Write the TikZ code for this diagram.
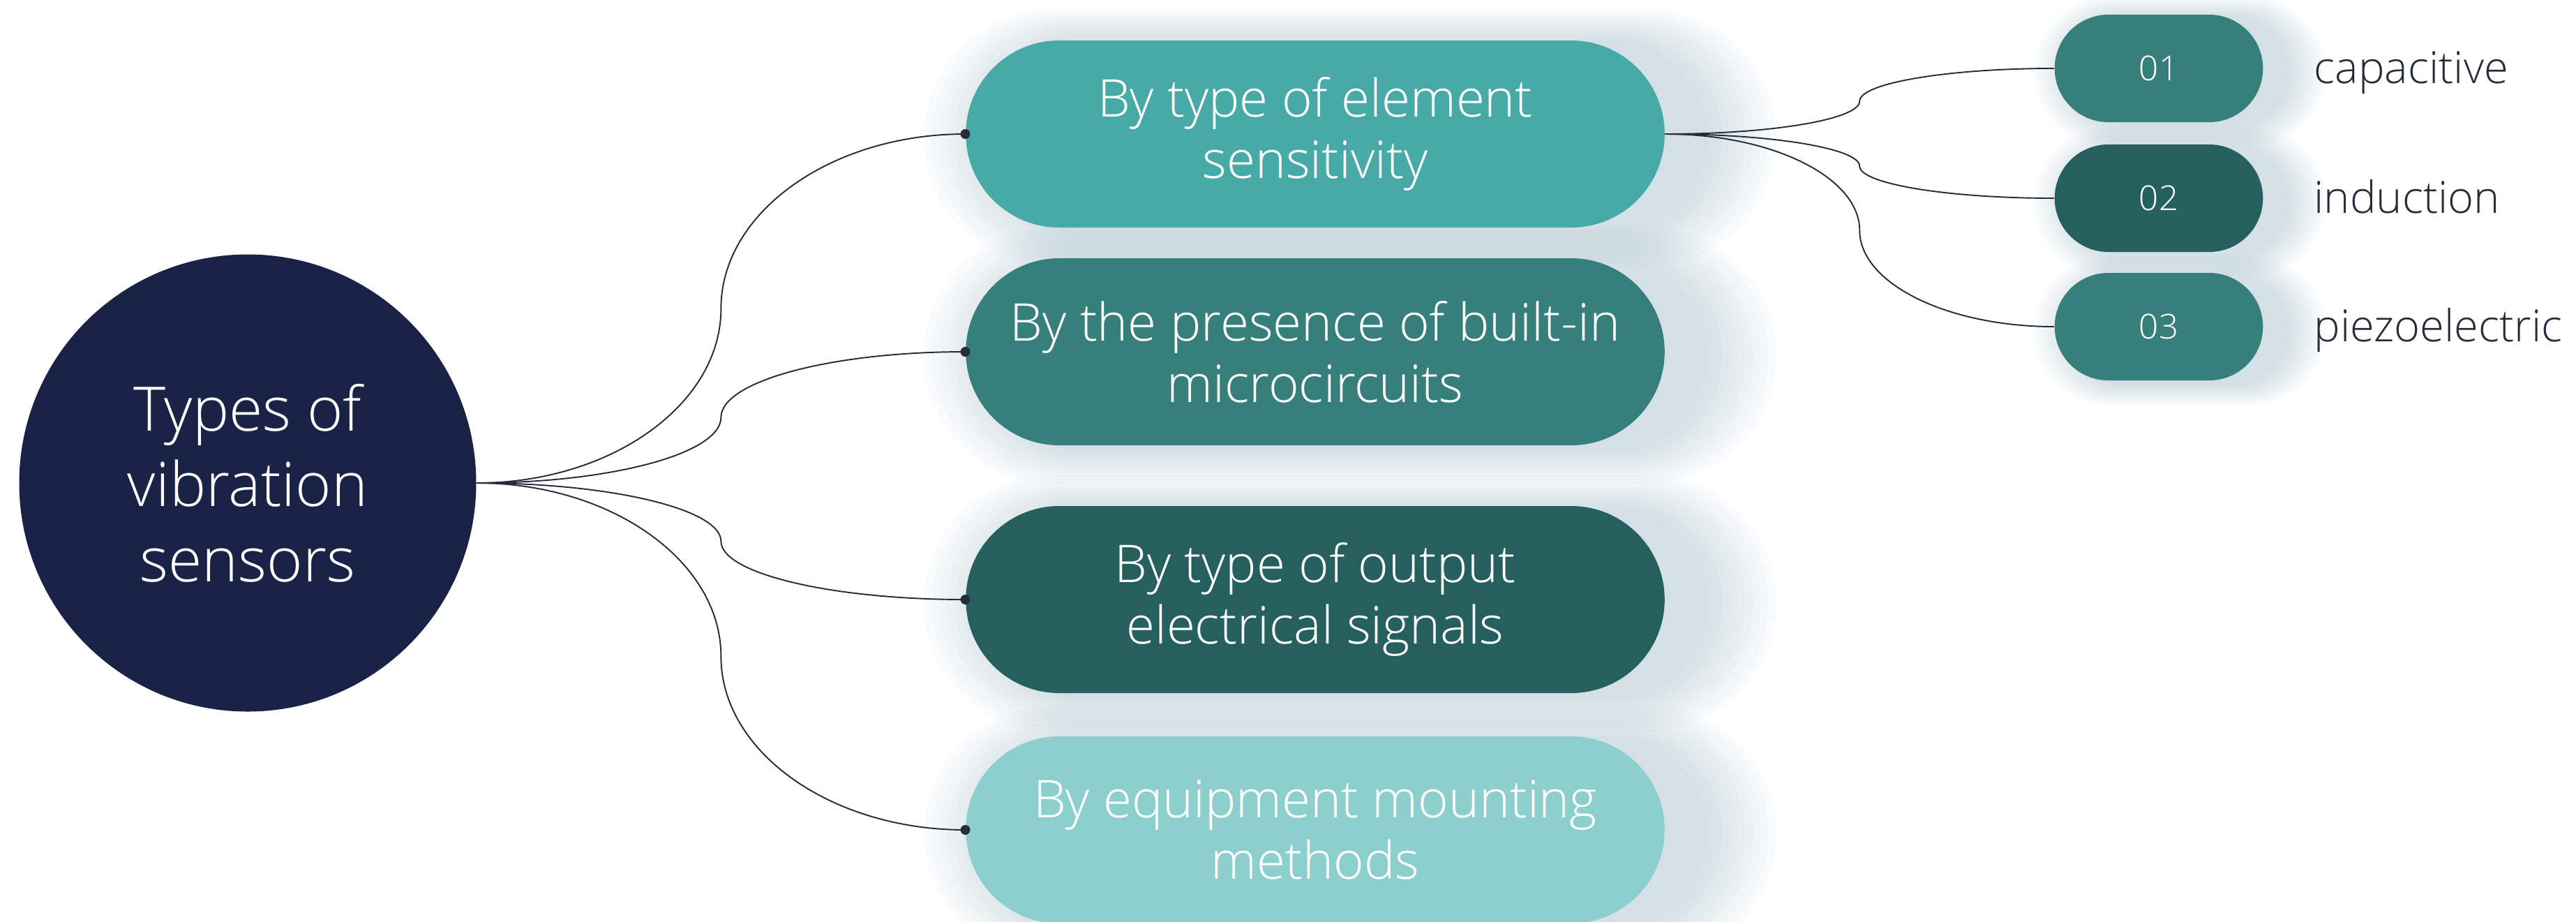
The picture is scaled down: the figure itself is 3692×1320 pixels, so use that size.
\documentclass[tikz,border=0pt]{standalone}
\usepackage{fontspec}
\setmainfont{Open Sans}[UprightFont=* Light]
\usepackage{tikz}
\usetikzlibrary{positioning, calc, shapes.misc}
\usepackage{xcolor}

\definecolor{navy}{HTML}{1A2246}
\definecolor{tealA}{HTML}{48AAA7}
\definecolor{tealB}{HTML}{367F7B}
\definecolor{tealC}{HTML}{26605E}
\definecolor{tealD}{HTML}{8DCFCD}
\definecolor{linec}{HTML}{272C3A}
\definecolor{glow}{HTML}{7FA3B0}

\begin{document}
\begin{tikzpicture}[x=0.1mm, y=-0.1mm,
    pill/.style={rounded rectangle, minimum width=10.25cm, minimum height=2.68cm, text=white, align=center,
      font=\fontsize{21.2}{25}\selectfont},
    smallpill/.style={rounded rectangle, minimum width=3.22cm, minimum height=1.54cm, text=white,
      font=\fontsize{14}{16}\selectfont},
    glowlayer/.style={rounded rectangle, fill=glow, fill opacity=0.04, draw=none},
    kind/.style={text=linec, font=\fontsize{18}{20}\selectfont, anchor=mid west, yshift=-1.2mm},
    link/.style={draw=linec, line width=0.55pt}]
    \useasboundingbox (0,0) rectangle (3692,1320);

    \coordinate (c1) at (1885,192);
    \coordinate (c2) at (1885,504);
    \coordinate (c3) at (1885,859);
    \coordinate (c4) at (1885,1189);
    \coordinate (d1) at (3094,98);
    \coordinate (d2) at (3094,284);
    \coordinate (d3) at (3094,468);

    % soft glow behind the pills
    \foreach \c in {c1,c2,c3,c4}
      \foreach \k in {1,...,10}
        \node[glowlayer, minimum width=10.25cm+\k*2.2mm, minimum height=2.68cm+\k*1mm] at ($(\c)+(50,5)$) {};
    \foreach \c in {d1,d2,d3}
      \foreach \k in {1,...,10}
        \node[glowlayer, minimum width=3.22cm+\k*1.2mm, minimum height=1.54cm+\k*0.6mm] at ($(\c)+(30,5)$) {};

    \node[circle, minimum size=6.55cm, inner sep=0pt, fill=navy, text=white, align=center, font=\fontsize{25}{30.7}\selectfont] (root) at (355,692) {Types of\\vibration\\sensors};

    \node[pill, fill=tealA] (p1) at (c1) {By type of element\\sensitivity};
    \node[pill, fill=tealB] (p2) at (c2) {By the presence of built-in\\microcircuits};
    \node[pill, fill=tealC] (p3) at (c3) {By type of output\\electrical signals};
    \node[pill, fill=tealD] (p4) at (c4) {By equipment mounting\\methods};

    \node[smallpill, fill=tealB] (s1) at (d1) {01};
    \node[smallpill, fill=tealC] (s2) at (d2) {02};
    \node[smallpill, fill=tealB] (s3) at (d3) {03};

    \node[kind, right=6mm of s1, anchor=mid west] (l1) {capacitive};
    \node[kind, right=6mm of s2, anchor=mid west] (l2) {induction};
    \node[kind, right=6mm of s3, anchor=mid west] (l3) {piezoelectric};

    % branches from the root
    \foreach \p in {p1,p2,p3,p4} {
      \coordinate (m) at ($(root.east)!0.5!(\p.west)$);
      \draw[link] (root.east) .. controls ($(root.east)!0.55!(m |- root.east)$) and ($(m)!0.55!(m |- root.east)$) .. (m)
        .. controls ($(m)!0.55!(m |- \p.west)$) and ($(\p.west)!0.55!(m |- \p.west)$) .. (\p.west);
      \fill[linec] (\p.west) circle (0.7mm);
    }

    % branches to the kinds
    \foreach \s in {s1,s2,s3} {
      \coordinate (m) at ($(p1.east)!0.5!(\s.west)$);
      \draw[link] (p1.east) .. controls ($(p1.east)!0.55!(m |- p1.east)$) and ($(m)!0.55!(m |- p1.east)$) .. (m)
        .. controls ($(m)!0.55!(m |- \s.west)$) and ($(\s.west)!0.55!(m |- \s.west)$) .. (\s.west);
    }
\end{tikzpicture}
\end{document}
